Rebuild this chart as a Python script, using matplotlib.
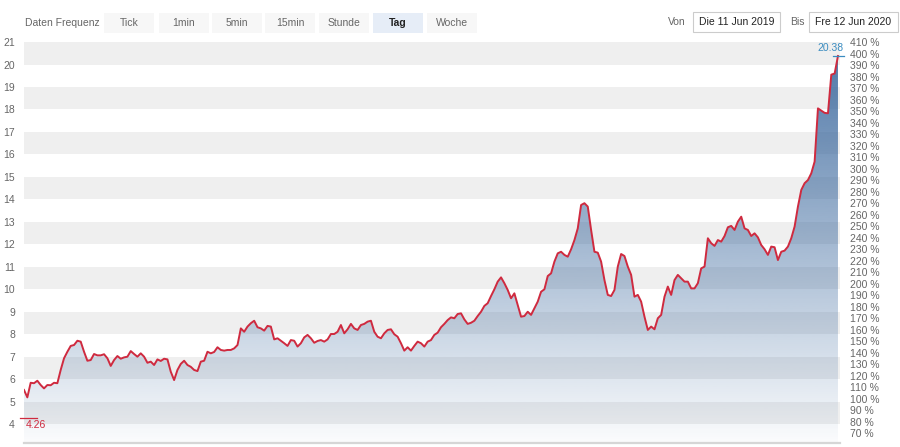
import numpy as np
import matplotlib.pyplot as plt
from matplotlib.patches import Polygon, Rectangle
from matplotlib.transforms import blended_transform_factory

plt.rcParams['font.family'] = ['Liberation Sans', 'DejaVu Sans']

# daily closes, 11 Jun 2019 - 12 Jun 2020
prices = [
    5.52, 5.19, 5.84, 5.82, 5.93, 5.74, 5.59, 5.74, 5.73, 5.84, 5.82, 6.41, 6.93,
    7.22, 7.48, 7.52, 7.71, 7.67, 7.22, 6.82, 6.85, 7.12, 7.06, 7.06, 7.11, 6.93,
    6.59, 6.85, 7.03, 6.91, 6.97, 7.00, 7.25, 7.12, 7.00, 7.15, 7.00, 6.73, 6.78,
    6.63, 6.88, 6.81, 6.91, 6.88, 6.33, 5.96, 6.41, 6.68, 6.82, 6.63, 6.55, 6.41,
    6.36, 6.78, 6.82, 7.22, 7.15, 7.21, 7.42, 7.30, 7.27, 7.30,
    7.30, 7.37, 7.52, 8.26, 8.11, 8.34, 8.49, 8.60, 8.31, 8.26, 8.16, 8.37, 8.34,
    7.77, 7.82, 7.71, 7.60, 7.48, 7.74, 7.71, 7.45, 7.60, 7.86, 7.97, 7.82, 7.62,
    7.70, 7.74, 7.67, 7.77, 8.01, 8.01, 8.11, 8.41, 8.04, 8.22, 8.46, 8.26, 8.19,
    8.41, 8.46, 8.56, 8.60, 8.11, 7.89, 7.82, 8.04, 8.19, 8.22, 8.00, 7.89, 7.60,
    7.27, 7.42, 7.27, 7.48, 7.67, 7.60,
    7.45, 7.67, 7.74, 7.97, 8.07, 8.31, 8.46, 8.63, 8.75, 8.71, 8.90, 8.93, 8.66,
    8.46, 8.51, 8.60, 8.81, 9.00, 9.26, 9.38, 9.70, 10.00, 10.34, 10.53, 10.27,
    9.97, 9.60, 9.82, 9.30, 8.78, 8.81, 9.00, 8.86, 9.15, 9.45, 9.89, 10.00, 10.59,
    10.71, 11.23, 11.60, 11.67, 11.53, 11.45, 11.78, 12.19, 12.71, 13.75, 13.83,
    13.68, 12.64, 11.67, 11.63, 11.23, 10.41, 9.75, 9.70, 9.97, 11.01, 11.57,
    11.48, 11.01,
    10.64, 9.67, 9.75, 9.45, 8.78, 8.19, 8.34, 8.22, 8.71, 8.86, 9.67, 10.12, 9.75,
    10.41, 10.64, 10.49, 10.34, 10.34, 10.04, 10.04, 10.27, 10.93, 11.01, 12.27,
    12.05, 11.93, 12.19, 12.12, 12.37, 12.76, 12.82, 12.64, 13.01, 13.23, 12.71,
    12.64, 12.37, 12.49, 12.31, 11.97, 11.78, 11.53, 11.90, 11.87, 11.30, 11.67,
    11.72, 11.90, 12.27, 12.79, 13.68, 14.42, 14.72, 14.86, 15.16, 15.68, 18.05,
    17.95, 17.85, 17.83, 19.55, 19.60, 20.38,
]

frequencies = ["Tick", "1min", "5min", "15min", "Stunde", "Tag", "Woche"]
active_freq = "Tag"
date_from = "Die 11 Jun 2019"
date_to = "Fre 12 Jun 2020"
low_value = 4.26
last_value = 20.38
pct_base = 5.122          # price that corresponds to 100 %
price_ticks = list(range(4, 22))
pct_ticks = list(range(70, 411, 10))

W, H = 900, 447
LINE = "#cf2a3f"
TXT = "#666666"

fig = plt.figure(figsize=(W / 100, H / 100), dpi=100)
fig.patch.set_facecolor("white")

def fx(px):
    return px / W

def fy(py):
    return 1 - py / H

ax = fig.add_axes([fx(24), fy(443), fx(840) - fx(24), fy(36) - fy(443)])
y_lo, y_hi = 3.16, 21.27
n = len(prices)
x = np.arange(n)
ax.set_xlim(0, (n - 1) * 1.0025)
ax.set_ylim(y_lo, y_hi)

# alternating bands
for k in range(4, 21, 2):
    ax.axhspan(k, k + 1, color="#efefef", lw=0, zorder=0)

# gradient fill under the line
verts = np.vstack([[x[0], y_lo], np.column_stack([x, prices]), [x[-1], y_lo]])
clip = Polygon(verts, closed=True, facecolor="none", edgecolor="none")
ax.add_patch(clip)
levels = np.linspace(y_lo, y_hi, 256)
alpha = np.clip(0.02 + (levels - y_lo) / (20.5 - y_lo) * 0.82, 0, 0.86)
grad = np.zeros((256, 1, 4))
grad[:, 0, 0] = 47 / 255
grad[:, 0, 1] = 95 / 255
grad[:, 0, 2] = 152 / 255
grad[:, 0, 3] = alpha
im = ax.imshow(grad, origin="lower", aspect="auto", interpolation="bilinear",
               extent=[x[0], x[-1], y_lo, y_hi], zorder=1)
im.set_clip_path(clip)

ax.plot(x, prices, color=LINE, lw=1.4, zorder=3, solid_joinstyle="round")

# axes styling
for s in ("top", "left", "right"):
    ax.spines[s].set_visible(False)
ax.spines["bottom"].set_color("#d6d6d6")
ax.spines["bottom"].set_linewidth(1.6)
ax.set_xticks([])
ax.set_yticks(price_ticks)
ax.set_yticklabels([str(t) for t in price_ticks])
ax.tick_params(axis="y", length=0, pad=6.5, labelsize=7.5, labelcolor=TXT)

ax2 = ax.twinx()
ax2.set_ylim(y_lo / pct_base * 100, y_hi / pct_base * 100)
ax2.set_yticks(pct_ticks)
ax2.set_yticklabels([f"{t} %" for t in pct_ticks])
ax2.tick_params(axis="y", length=0, pad=7.5, labelsize=7.5, labelcolor=TXT)
for s in ax2.spines.values():
    s.set_visible(False)

# low / last markers
tr = blended_transform_factory(ax.transAxes, ax.transData)
ax.plot([-0.005, 0.016], [low_value, low_value], color=LINE, lw=0.9,
        transform=tr, clip_on=False, zorder=4)
ax.text(0.002, low_value - 0.08, f"{low_value:.2f}", color=LINE, fontsize=7.5,
        va="top", ha="left", transform=tr)
ax.plot([0.992, 1.005], [last_value, last_value], color="#3a8cc0", lw=0.9,
        transform=tr, clip_on=False, zorder=4)
ax.text(1.004, last_value + 0.12, f"{last_value:.2f}", color="#3a8cc0",
        fontsize=7.5, va="bottom", ha="right", transform=tr)

# top toolbar
fig.text(fx(25), fy(23), "Daten Frequenz", fontsize=7.5, color=TXT, va="center")
btn_left = [104, 159, 212, 265, 319, 373, 427]
for left, label in zip(btn_left, frequencies):
    active = label == active_freq
    fig.patches.append(Rectangle((fx(left), fy(33)), fx(50), fy(13) - fy(33),
                                 transform=fig.transFigure,
                                 facecolor="#e6edf7" if active else "#f7f7f7",
                                 edgecolor="none"))
    fig.text(fx(left + 25), fy(23), label, fontsize=7.5, ha="center", va="center",
             color="#222222" if active else TXT,
             fontweight="bold" if active else "normal")

fig.text(fx(668), fy(22), "Von", fontsize=7.5, color=TXT, va="center")
fig.text(fx(790), fy(22), "Bis", fontsize=7.5, color=TXT, va="center")
for left, right, label in [(693, 780, date_from), (809, 898, date_to)]:
    fig.patches.append(Rectangle((fx(left), fy(32)), fx(right - left), fy(12) - fy(32),
                                 transform=fig.transFigure, facecolor="white",
                                 edgecolor="#cccccc", lw=0.8))
    fig.text(fx((left + right) / 2), fy(22), label, fontsize=7.5, color="#222222",
             ha="center", va="center")

fig.savefig("out.png", dpi=100)
